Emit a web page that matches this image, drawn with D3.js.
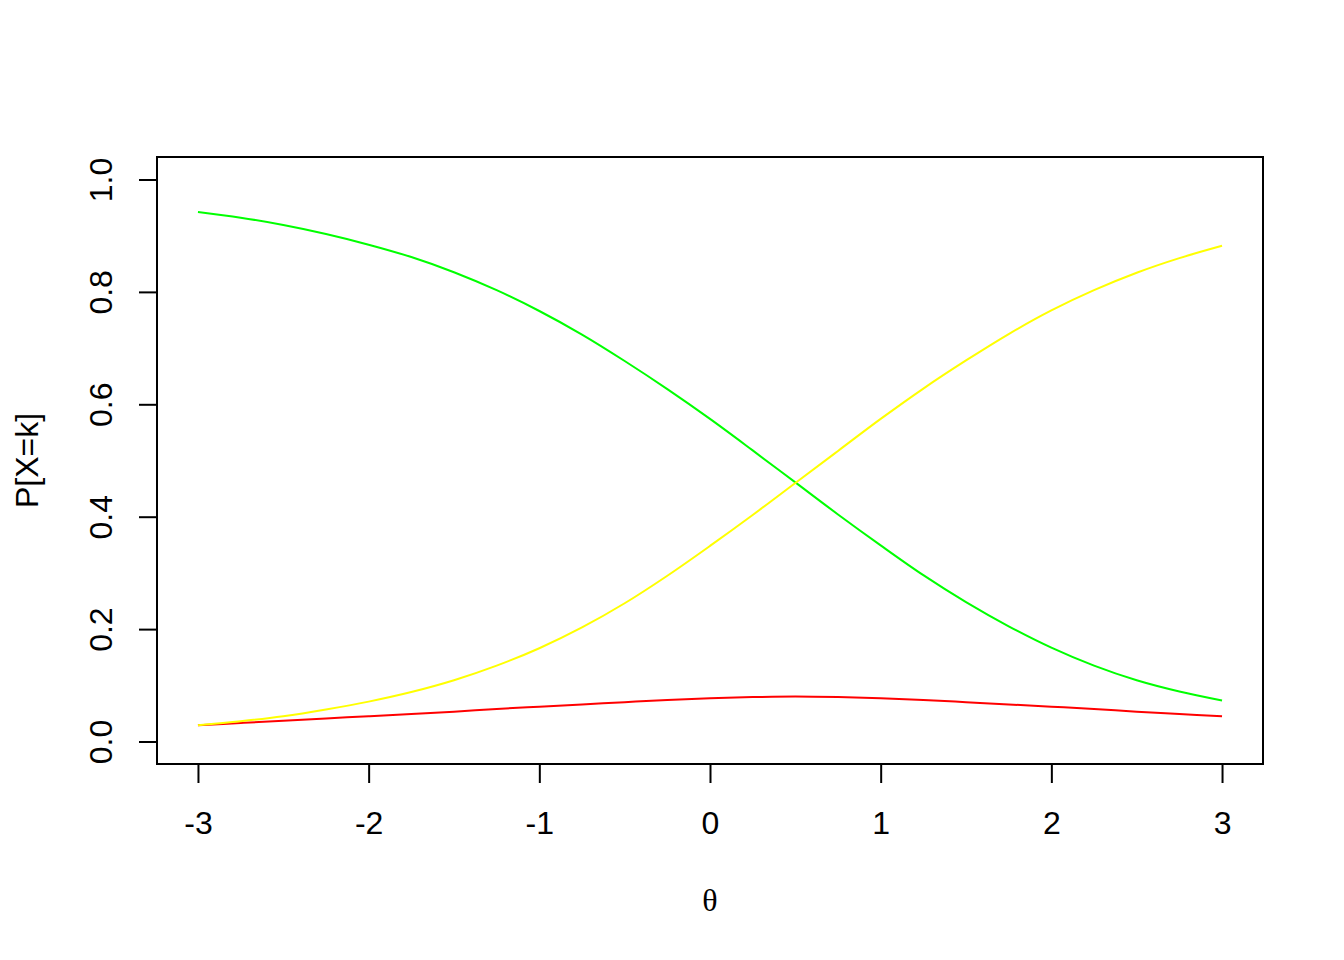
<!DOCTYPE html>
<html>
<head>
<meta charset="utf-8">
<script src="https://cdn.jsdelivr.net/npm/d3@7"></script>
<style>
  html, body { margin: 0; padding: 0; background: #fff; }
  svg { display: block; }
</style>
</head>
<body>
<svg id="chart" width="1344" height="960"></svg>
<script>
// ---- data ----
const theta = [-3, -2.75, -2.5, -2.25, -2, -1.75, -1.5, -1.25, -1, -0.75, -0.5, -0.25,
               0, 0.25, 0.5, 0.75, 1, 1.25, 1.5, 1.75, 2, 2.25, 2.5, 2.75, 3];
const pGreen = [0.942, 0.932, 0.919, 0.903, 0.884, 0.862, 0.835, 0.803, 0.766, 0.724, 0.677, 0.627,
                0.574, 0.518, 0.461, 0.404, 0.349, 0.296, 0.248, 0.205, 0.167, 0.135, 0.109, 0.089, 0.073];
const pYellow = [0.029, 0.036, 0.045, 0.057, 0.071, 0.088, 0.109, 0.135, 0.166, 0.203, 0.246, 0.295,
                 0.348, 0.403, 0.460, 0.517, 0.574, 0.628, 0.678, 0.725, 0.767, 0.803, 0.834, 0.860, 0.882];
const pRed = [0.029, 0.033, 0.037, 0.041, 0.045, 0.049, 0.053, 0.058, 0.062, 0.066, 0.070, 0.074,
              0.077, 0.079, 0.080, 0.079, 0.077, 0.074, 0.070, 0.066, 0.062, 0.058, 0.053, 0.049, 0.045];
const seriesNames = ["green", "red", "yellow"];
const seriesColors = ["#00FF00", "#FF0000", "#FFFF00"];
const xTicks = [-3, -2, -1, 0, 1, 2, 3];
const yTicks = [0, 0.2, 0.4, 0.6, 0.8, 1.0];
const xLabel = "θ";
const yLabel = "P[X=k]";

// ---- layout ----
const svg = d3.select("#chart");
const plotLeft = 157, plotRight = 1263, plotTop = 157, plotBottom = 764;
const x = d3.scaleLinear().domain([-3.24, 3.24]).range([plotLeft, plotRight]);
const y = d3.scaleLinear().domain([-0.04, 1.04]).range([plotBottom, plotTop]);

svg.append("rect").attr("width", 1344).attr("height", 960).attr("fill", "#fff");

const seriesValues = { green: pGreen, red: pRed, yellow: pYellow };
const line = d3.line()
  .x(d => x(d[0]))
  .y(d => y(d[1]))
  .curve(d3.curveCatmullRom.alpha(0.5));

const plot = svg.append("g");
seriesNames.forEach((name, i) => {
  const pts = theta.map((t, j) => [t, seriesValues[name][j]]);
  plot.append("path")
    .datum(pts)
    .attr("fill", "none")
    .attr("stroke", seriesColors[i])
    .attr("stroke-width", 2)
    .attr("d", line);
});

// box
svg.append("rect")
  .attr("x", plotLeft).attr("y", plotTop)
  .attr("width", plotRight - plotLeft).attr("height", plotBottom - plotTop)
  .attr("fill", "none").attr("stroke", "#000").attr("stroke-width", 2);

// x axis
const xAxis = svg.append("g")
  .attr("transform", `translate(0,${plotBottom})`)
  .call(d3.axisBottom(x).tickValues(xTicks).tickSize(19).tickFormat(d3.format("d")));
xAxis.select(".domain").remove();
xAxis.selectAll(".tick line").attr("stroke", "#000").attr("stroke-width", 2);
xAxis.selectAll(".tick text")
  .attr("font-family", "Liberation Sans, Arial, sans-serif")
  .attr("font-size", 32).attr("fill", "#000")
  .attr("dy", null)
  .attr("y", 70)
  .text(d => d < 0 ? "-" + Math.abs(d) : String(d));

// y axis
const yAxis = svg.append("g")
  .attr("transform", `translate(${plotLeft},0)`)
  .call(d3.axisLeft(y).tickValues(yTicks).tickSize(18).tickFormat(d3.format(".1f")));
yAxis.select(".domain").remove();
yAxis.selectAll(".tick line").attr("stroke", "#000").attr("stroke-width", 2);
yAxis.selectAll(".tick text")
  .attr("font-family", "Liberation Sans, Arial, sans-serif")
  .attr("font-size", 32).attr("fill", "#000")
  .attr("x", null).attr("dy", null)
  .attr("text-anchor", "middle")
  .attr("transform", `translate(${112 - plotLeft},0) rotate(-90)`);

// axis titles
svg.append("text")
  .attr("x", (x(-3) + x(3)) / 2).attr("y", 911)
  .attr("text-anchor", "middle")
  .attr("font-family", "Liberation Serif, Times New Roman, serif")
  .attr("font-size", 32).attr("fill", "#000")
  .text(xLabel);

svg.append("text")
  .attr("transform", `translate(38,${(y(0) + y(1)) / 2}) rotate(-90)`)
  .attr("text-anchor", "middle")
  .attr("font-family", "Liberation Sans, Arial, sans-serif")
  .attr("font-size", 32).attr("fill", "#000")
  .text(yLabel);
</script>
</body>
</html>
